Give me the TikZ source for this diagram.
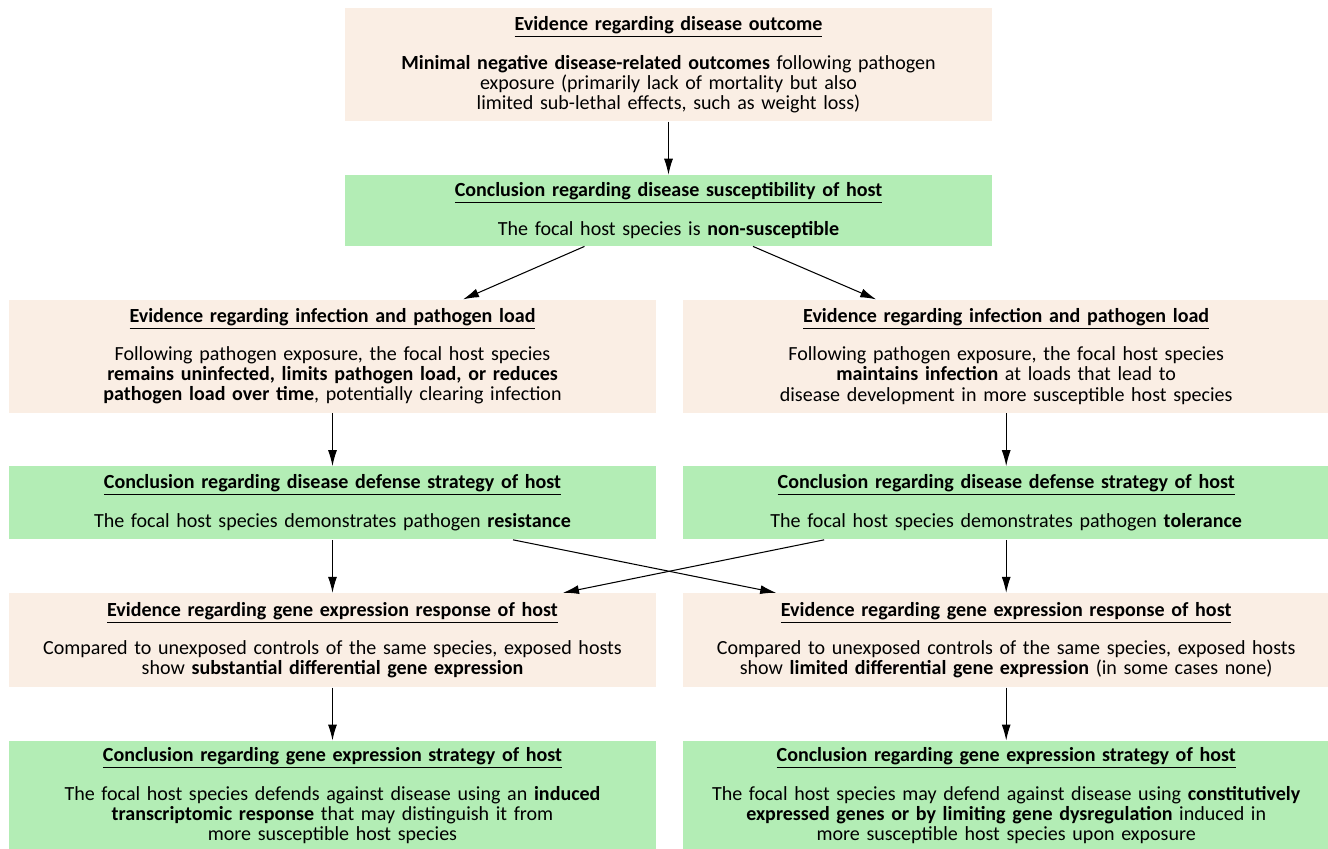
\documentclass[tikz,border=0pt]{standalone}
\usepackage{fontspec}
\setmainfont{Carlito}
\usepackage{tikz}
\usetikzlibrary{arrows.meta,positioning}
\definecolor{evidence}{RGB}{250,238,228}
\definecolor{conclusion}{RGB}{179,237,181}

\begin{document}
\begin{tikzpicture}[
    node distance=1.06cm and 0.52cm,
    every node/.style={font=\fontsize{11.4}{11.4}\selectfont},
    box/.style={rectangle, inner sep=0pt, text width=12.94cm, minimum width=12.94cm, align=center},
    evid/.style={box, fill=evidence},
    concl/.style={box, fill=conclusion},
    arrow/.style={-{Latex[length=3.2mm,width=1.8mm]}, semithick}
]
    \useasboundingbox (-13.37,0.16) rectangle (13.19,-16.8);

    % top of the chain
    \node[evid, minimum height=2.26cm, anchor=north] (outcome) at (0,0) {\underline{\textbf{Evidence regarding disease outcome}}\\[0.8\baselineskip]
        \textbf{Minimal negative disease-related outcomes} following pathogen\\
        exposure (primarily lack of mortality but also\\
        limited sub-lethal effects, such as weight loss)};
    \node[concl, minimum height=1.42cm, below=of outcome] (suscept) {\underline{\textbf{Conclusion regarding disease susceptibility of host}}\\[0.8\baselineskip]
        The focal host species is \textbf{non-susceptible}};

    % left branch
    \node[evid, minimum height=2.26cm, below=of suscept, xshift=-6.72cm] (loadL) {\underline{\textbf{Evidence regarding infection and pathogen load}}\\[0.8\baselineskip]
        Following pathogen exposure, the focal host species\\
        \textbf{remains uninfected, limits pathogen load, or reduces}\\
        \textbf{pathogen load over time}, potentially clearing infection};
    \node[concl, minimum height=1.46cm, below=of loadL] (defL) {\underline{\textbf{Conclusion regarding disease defense strategy of host}}\\[0.8\baselineskip]
        The focal host species demonstrates pathogen \textbf{resistance}};
    \node[evid, minimum height=1.88cm, below=of defL] (exprL) {\underline{\textbf{Evidence regarding gene expression response of host}}\\[0.8\baselineskip]
        Compared to unexposed controls of the same species, exposed hosts\\
        show \textbf{substantial differential gene expression}};
    \node[concl, minimum height=2.2cm, below=of exprL] (stratL) {\underline{\textbf{Conclusion regarding gene expression strategy of host}}\\[0.8\baselineskip]
        The focal host species defends against disease using an \textbf{induced}\\
        \textbf{transcriptomic response} that may distinguish it from\\
        more susceptible host species};

    % right branch
    \node[evid, minimum height=2.26cm, right=of loadL] (loadR) {\underline{\textbf{Evidence regarding infection and pathogen load}}\\[0.8\baselineskip]
        Following pathogen exposure, the focal host species\\
        \textbf{maintains infection} at loads that lead to\\
        disease development in more susceptible host species};
    \node[concl, minimum height=1.46cm, below=of loadR] (defR) {\underline{\textbf{Conclusion regarding disease defense strategy of host}}\\[0.8\baselineskip]
        The focal host species demonstrates pathogen \textbf{tolerance}};
    \node[evid, minimum height=1.88cm, below=of defR] (exprR) {\underline{\textbf{Evidence regarding gene expression response of host}}\\[0.8\baselineskip]
        Compared to unexposed controls of the same species, exposed hosts\\
        show \textbf{limited differential gene expression} (in some cases none)};
    \node[concl, minimum height=2.2cm, below=of exprR] (stratR) {\underline{\textbf{Conclusion regarding gene expression strategy of host}}\\[0.8\baselineskip]
        The focal host species may defend against disease using \textbf{constitutively}\\
        \textbf{expressed genes or by limiting gene dysregulation} induced in\\
        more susceptible host species upon exposure};

    \draw[arrow] (outcome) -- (suscept);
    \draw[arrow] ([xshift=-1.68cm]suscept.south) -- ([xshift=2.61cm]loadL.north);
    \draw[arrow] ([xshift=1.69cm]suscept.south) -- ([xshift=-2.6cm]loadR.north);
    \draw[arrow] (loadL) -- (defL);
    \draw[arrow] (loadR) -- (defR);
    \draw[arrow] (defL) -- (exprL);
    \draw[arrow] (defR) -- (exprR);
    \draw[arrow] ([xshift=3.61cm]defL.south) -- ([xshift=-4.6cm]exprR.north);
    \draw[arrow] ([xshift=-3.64cm]defR.south) -- ([xshift=4.61cm]exprL.north);
    \draw[arrow] (exprL) -- (stratL);
    \draw[arrow] (exprR) -- (stratR);
\end{tikzpicture}
\end{document}
